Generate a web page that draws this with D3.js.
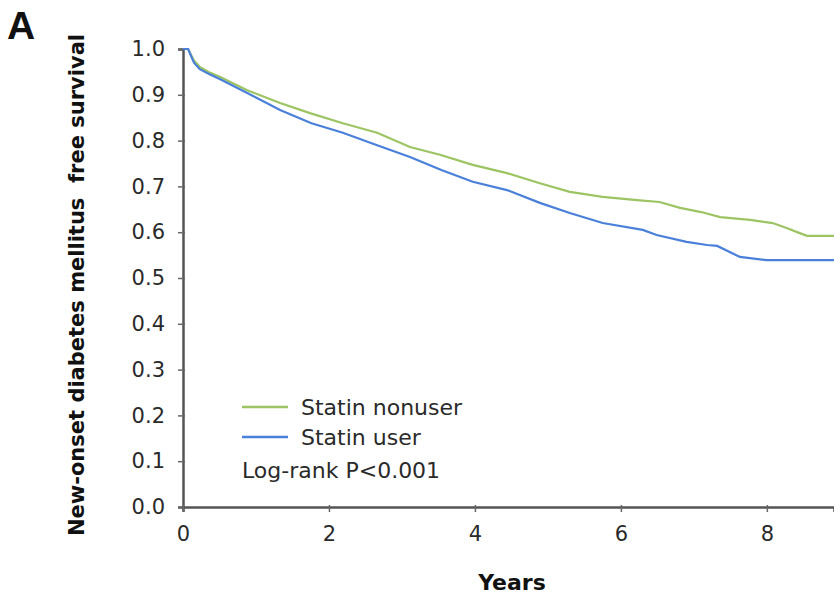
<!DOCTYPE html>
<html>
<head>
<meta charset="utf-8">
<script src="https://cdn.jsdelivr.net/npm/d3@7"></script>
<style>
  body, html { margin: 0; padding: 0; background: #fff; overflow: hidden; }
  svg { display: block; }
  .tick text { font-family: "DejaVu Sans", Verdana, sans-serif; fill: #2a2a2a; }
</style>
</head>
<body>
<div id="chart"></div>
<script>
// survival curves (years, survival)
var nonuserYears = [0, 0.07, 0.15, 0.23, 0.35, 0.51, 0.88, 1.33, 1.74, 2.19, 2.66, 3.11, 3.52, 3.97, 4.44, 4.89, 5.30, 5.75, 6.22, 6.53, 6.81, 7.10, 7.36, 7.77, 8.08, 8.27, 8.45, 8.55, 8.92];
var nonuserSurv  = [1.0, 1.0, 0.975, 0.961, 0.950, 0.939, 0.910, 0.882, 0.860, 0.838, 0.817, 0.786, 0.769, 0.747, 0.729, 0.707, 0.688, 0.677, 0.670, 0.666, 0.653, 0.644, 0.633, 0.627, 0.620, 0.609, 0.598, 0.592, 0.592];

var userYears = [0, 0.07, 0.15, 0.23, 0.35, 0.51, 0.88, 1.33, 1.76, 2.19, 2.66, 3.11, 3.54, 3.97, 4.44, 4.89, 5.30, 5.75, 6.30, 6.49, 6.90, 7.18, 7.32, 7.63, 8.0, 8.92];
var userSurv  = [1.0, 1.0, 0.970, 0.956, 0.946, 0.934, 0.904, 0.867, 0.838, 0.817, 0.790, 0.764, 0.736, 0.710, 0.692, 0.664, 0.642, 0.620, 0.605, 0.594, 0.579, 0.572, 0.570, 0.546, 0.539, 0.539];

var xTicks = [0, 2, 4, 6, 8];
var yTicks = [0, 0.1, 0.2, 0.3, 0.4, 0.5, 0.6, 0.7, 0.8, 0.9, 1.0];

var seriesNames = ["Statin nonuser", "Statin user"];
var seriesColors = ["#9cc463", "#4a80d9"];

var W = 834, H = 595;
var svg = d3.select("#chart").append("svg").attr("width", W).attr("height", H);

var x = d3.scaleLinear().domain([0, 8.92]).range([183, 834]);
var y = d3.scaleLinear().domain([0, 1]).range([507, 49]);

// axes
var yAxis = svg.append("g").attr("transform", "translate(183,0)")
  .call(d3.axisLeft(y).tickValues(yTicks).tickFormat(d3.format(".1f")).tickSize(5).tickPadding(13));
var xAxis = svg.append("g").attr("transform", "translate(0,507)")
  .call(d3.axisBottom(x).tickValues(xTicks).tickFormat(d3.format("d")).tickSize(5).tickPadding(14));

[yAxis, xAxis].forEach(function(a) {
  a.select(".domain").attr("stroke", "#555").attr("stroke-width", 2.5);
  a.selectAll(".tick line").attr("stroke", "#666").attr("stroke-width", 1.5);
  a.selectAll(".tick text").attr("font-size", 21);
});
xAxis.selectAll(".tick line").attr("y1", -2);
yAxis.selectAll(".tick line").attr("x1", 2);

// curves
var line = d3.line().x(function(d) { return x(d[0]); }).y(function(d) { return y(d[1]); });
var series = [d3.zip(nonuserYears, nonuserSurv), d3.zip(userYears, userSurv)];
series.forEach(function(s, i) {
  svg.append("path").datum(s)
    .attr("d", line)
    .attr("fill", "none")
    .attr("stroke", seriesColors[i])
    .attr("stroke-width", 2.2);
});

// legend
var legend = svg.append("g");
seriesNames.forEach(function(name, i) {
  var ly = 407 + i * 30;
  legend.append("line").attr("x1", 242).attr("x2", 288).attr("y1", ly).attr("y2", ly)
    .attr("stroke", seriesColors[i]).attr("stroke-width", 2.5);
  legend.append("text").attr("x", 301).attr("y", ly + 8).text(name)
    .attr("font-family", "DejaVu Sans, Verdana, sans-serif").attr("font-size", 22).attr("fill", "#2a2a2a");
});
legend.append("text").attr("x", 242).attr("y", 478).text("Log-rank P<0.001")
  .attr("font-family", "DejaVu Sans, Verdana, sans-serif").attr("font-size", 22).attr("fill", "#2a2a2a");

// axis titles
svg.append("text").attr("x", 512).attr("y", 590).attr("text-anchor", "middle")
  .attr("font-family", "DejaVu Sans, Verdana, sans-serif").attr("font-weight", "bold")
  .attr("font-size", 22).attr("fill", "#111").text("Years");

svg.append("text").attr("transform", "translate(84,285) rotate(-90)").attr("text-anchor", "middle")
  .attr("font-family", "DejaVu Sans, Verdana, sans-serif").attr("font-weight", "bold")
  .attr("font-size", 21).attr("fill", "#111").attr("xml:space", "preserve")
  .text("New-onset diabetes mellitus  free survival");

// panel letter
svg.append("text").attr("x", 7).attr("y", 39)
  .attr("font-family", "Liberation Sans, Arial, sans-serif").attr("font-weight", "bold")
  .attr("font-size", 39).attr("fill", "#111").text("A");
</script>
</body>
</html>
